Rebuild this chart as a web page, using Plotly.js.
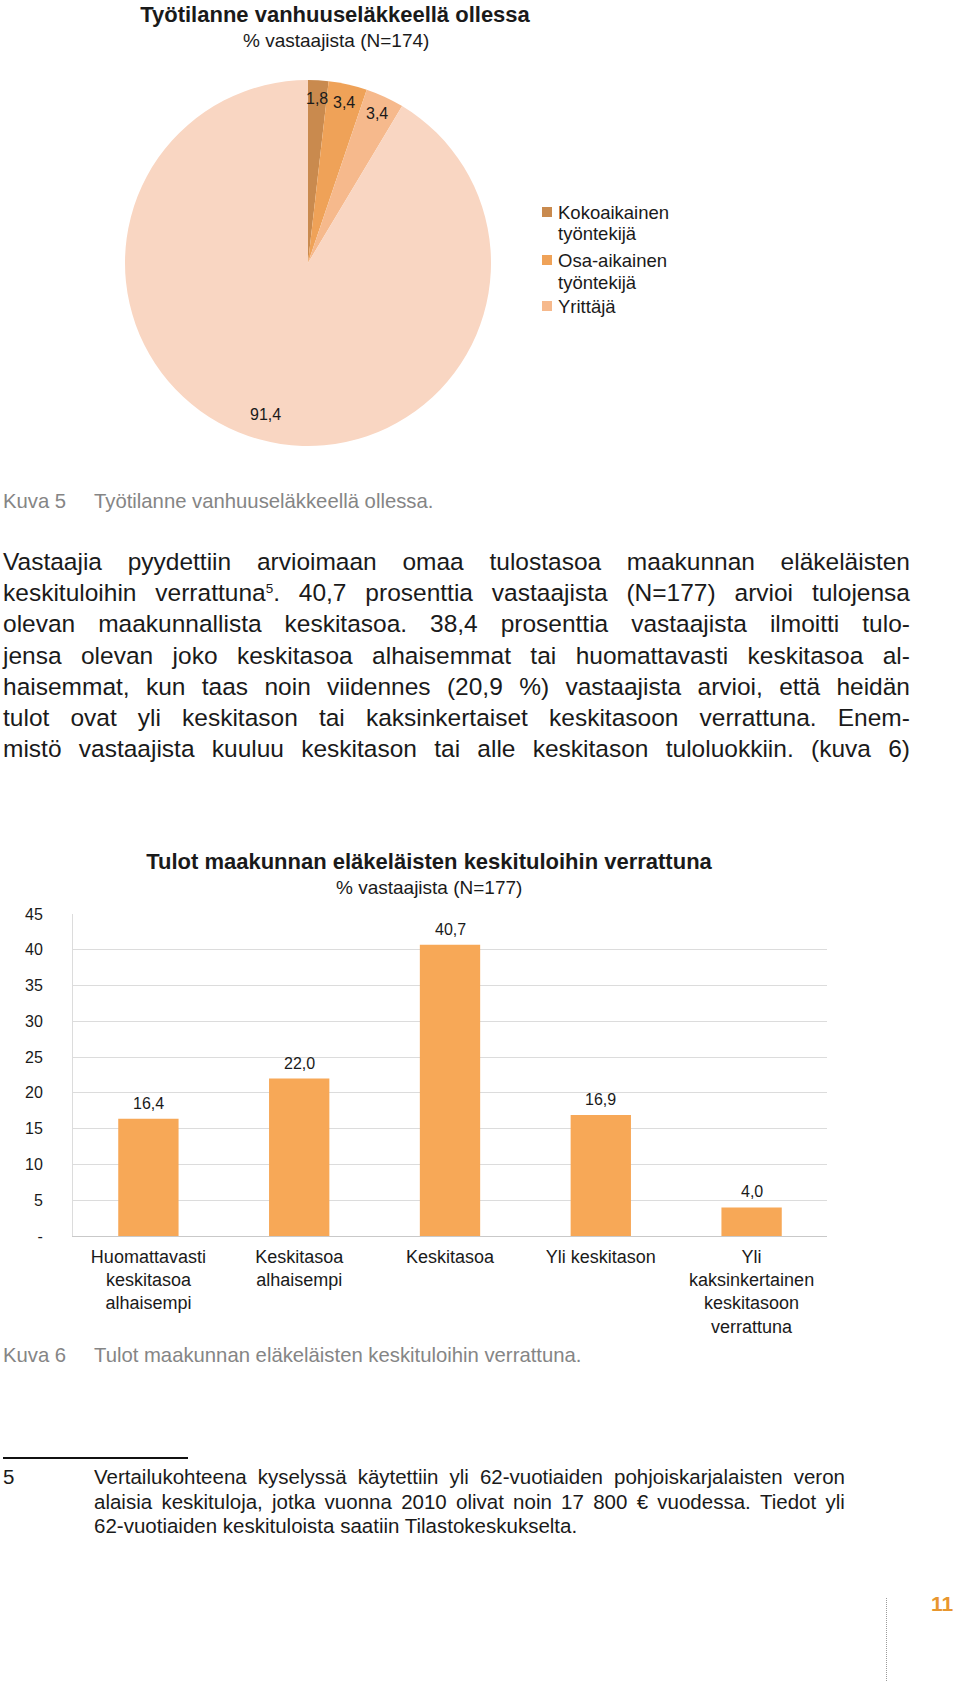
<!DOCTYPE html>
<html>
<head>
<meta charset="utf-8">
<script src="https://cdn.plot.ly/plotly-3.0.1.min.js"></script>
<style>
  body { margin: 0; background: #ffffff; }
  #page { position: relative; width: 960px; height: 1681px; overflow: hidden; background: #fff;
          font-family: "Liberation Sans", Arial, Helvetica, sans-serif; color: #1a1a1a; }
  .abs { position: absolute; white-space: nowrap; }
  .jline { position: absolute; display: flex; justify-content: space-between; white-space: nowrap; }
  .cap { color: #858585; font-size: 20.3px; line-height: 24px; }
  sup { font-size: 0.55em; line-height: 0; vertical-align: 0.6em; }
  #pie { position: absolute; left: 0; top: 0; width: 960px; height: 470px; }
  #bar { position: absolute; left: 0; top: 830px; width: 960px; height: 510px; }
  #measure { position: absolute; left: -5000px; top: 0; white-space: nowrap; visibility: hidden; }
</style>
</head>
<body>
<div id="page">
  <div id="pie"></div>
  <div id="bar"></div>
</div>
<span id="measure"></span>
<script>
// ---------------- DATA ----------------
const pieTitle = 'Työtilanne vanhuuseläkkeellä ollessa';
const pieSubtitle = '% vastaajista (N=174)';
const pieLabels = ['Kokoaikainen työntekijä', 'Osa-aikainen työntekijä', 'Yrittäjä', 'Ei työssä'];
const pieLegendLabels = ['Kokoaikainen<br>työntekijä', 'Osa-aikainen<br>työntekijä', 'Yrittäjä'];
const pieValues = [1.8, 3.4, 3.4, 91.4];
const pieColors = ['#C98A4E', '#EFA258', '#F6B98C', '#F9D6C2'];

const barTitle = 'Tulot maakunnan eläkeläisten keskituloihin verrattuna';
const barSubtitle = '% vastaajista (N=177)';
const barCategories = [
  'Huomattavasti<br>keskitasoa<br>alhaisempi',
  'Keskitasoa<br>alhaisempi',
  'Keskitasoa',
  'Yli keskitason',
  'Yli<br>kaksinkertainen<br>keskitasoon<br>verrattuna'
];
const barValues = [16.4, 22.0, 40.7, 16.9, 4.0];
const barColor = '#F7A857';
const yTickVals = [0, 5, 10, 15, 20, 25, 30, 35, 40, 45];
const yTickText = ['-', '5', '10', '15', '20', '25', '30', '35', '40', '45'];

const caption5 = ['Kuva 5', 'Työtilanne vanhuuseläkkeellä ollessa.'];
const caption6 = ['Kuva 6', 'Tulot maakunnan eläkeläisten keskituloihin verrattuna.'];
const bodyLines = [
  'Vastaajia pyydettiin arvioimaan omaa tulostasoa maakunnan eläkeläisten',
  'keskituloihin verrattuna<sup>5</sup>. 40,7 prosenttia vastaajista (N=177) arvioi tulojensa',
  'olevan maakunnallista keskitasoa. 38,4 prosenttia vastaajista ilmoitti tulo-',
  'jensa olevan joko keskitasoa alhaisemmat tai huomattavasti keskitasoa al-',
  'haisemmat, kun taas noin viidennes (20,9 %) vastaajista arvioi, että heidän',
  'tulot ovat yli keskitason tai kaksinkertaiset keskitasoon verrattuna. Enem-',
  'mistö vastaajista kuuluu keskitason tai alle keskitason tuloluokkiin. (kuva 6)'
];
const footNumber = '5';
const footLines = [
  'Vertailukohteena kyselyssä käytettiin yli 62-vuotiaiden pohjoiskarjalaisten veron',
  'alaisia keskituloja, jotka vuonna 2010 olivat noin 17 800 € vuodessa. Tiedot yli',
  '62-vuotiaiden keskituloista saatiin Tilastokeskukselta.'
];
const pageNumber = '11';

const FONT = '"Liberation Sans", Arial, Helvetica, sans-serif';
const fmt = v => v.toFixed(1).replace('.', ',');

// ---------------- PIE ----------------
(function () {
  const W = 960, H = 470;
  const cx = 308, cy = 263, R = 183;
  const annotations = [];
  annotations.push({ text: pieSubtitle, x: 336 / W, y: 1 - 40 / H, xref: 'paper', yref: 'paper',
    showarrow: false, xanchor: 'center', yanchor: 'middle', font: { size: 19, color: '#1a1a1a', family: FONT } });

  // slice value labels, placed from the data angles
  const total = pieValues.reduce((a, b) => a + b, 0);
  let cum = 0;
  pieValues.forEach((v) => {
    const mid = (cum + v / 2) / total * 2 * Math.PI;
    cum += v;
    const rf = v > 50 ? 0.86 : 0.9;
    const px = cx + Math.sin(mid) * R * rf;
    const py = cy - Math.cos(mid) * R * rf;
    annotations.push({ text: fmt(v), x: px / W, y: 1 - py / H, xref: 'paper', yref: 'paper',
      showarrow: false, xanchor: 'center', yanchor: 'middle', font: { size: 16, color: '#1a1a1a', family: FONT } });
  });

  // manual legend (first three categories)
  const shapes = [];
  const legY = [212, 260, 306];
  pieLegendLabels.forEach((lab, i) => {
    const y = legY[i];
    shapes.push({ type: 'rect', xref: 'paper', yref: 'paper',
      x0: 542 / W, x1: 552 / W, y0: 1 - (y + 5) / H, y1: 1 - (y - 5) / H,
      fillcolor: pieColors[i], line: { width: 0 } });
    lab.split('<br>').forEach((ln, j) => {
      annotations.push({ text: ln, x: 556 / W, y: 1 - (y + j * 22) / H, xref: 'paper', yref: 'paper',
        showarrow: false, xanchor: 'left', yanchor: 'middle', align: 'left',
        font: { size: 18.5, color: '#1a1a1a', family: FONT } });
    });
  });

  const trace = {
    type: 'pie', labels: pieLabels, values: pieValues, sort: false, direction: 'clockwise', rotation: 0,
    marker: { colors: pieColors, line: { width: 0 } }, textinfo: 'none', hoverinfo: 'label+value',
    showlegend: false,
    domain: { x: [(cx - R) / W, (cx + R) / W], y: [1 - (cy + R) / H, 1 - (cy - R) / H] }
  };
  const layout = {
    width: W, height: H, margin: { l: 0, r: 0, t: 0, b: 0 },
    paper_bgcolor: '#ffffff', plot_bgcolor: '#ffffff', showlegend: false,
    font: { family: FONT, color: '#1a1a1a' },
    title: { text: '<b>' + pieTitle + '</b>', x: 335 / W, xanchor: 'center', y: 1 - 14 / H, yanchor: 'middle',
      xref: 'container', yref: 'container', font: { size: 22, color: '#1a1a1a', family: FONT } },
    annotations: annotations, shapes: shapes
  };
  Plotly.newPlot('pie', [trace], layout, { staticPlot: true, displayModeBar: false });
})();

// ---------------- BAR ----------------
(function () {
  const W = 960, H = 510;
  const m = { l: 73, r: 133, t: 84, b: 104 };
  const plotH = H - m.t - m.b;
  const trace = {
    type: 'bar', x: barCategories, y: barValues, marker: { color: barColor, line: { width: 0 } },
    textinfo: 'none', cliponaxis: false, hoverinfo: 'x+y'
  };
  const annotations = [{ text: barSubtitle, xref: 'paper', yref: 'paper', x: (429 - m.l) / (W - m.l - m.r),
      y: (H - 57 - m.b) / plotH, showarrow: false, xanchor: 'center', yanchor: 'middle',
      font: { size: 19, color: '#1a1a1a', family: FONT } }];
  barValues.forEach((v, i) => annotations.push({ text: fmt(v), xref: 'x', yref: 'y', x: barCategories[i], y: v,
    showarrow: false, xanchor: 'center', yanchor: 'bottom', yshift: 5,
    font: { size: 16, color: '#1a1a1a', family: FONT } }));
  const layout = {
    width: W, height: H, margin: m, bargap: 0.6, separators: ',.',
    paper_bgcolor: '#ffffff', plot_bgcolor: '#ffffff', showlegend: false,
    font: { family: FONT, color: '#1a1a1a' },
    title: { text: '<b>' + barTitle + '</b>', x: 429 / W, xanchor: 'center', y: 1 - 31 / H, yanchor: 'middle',
      xref: 'container', yref: 'container', font: { size: 22, color: '#1a1a1a', family: FONT } },
    annotations: annotations,
    xaxis: { type: 'category', showgrid: false, showline: true, linecolor: '#c9c9c9', linewidth: 1,
      ticks: '', tickfont: { size: 18, color: '#1a1a1a', family: FONT }, ticklabelstandoff: 4, automargin: false },
    yaxis: { range: [0, 45], tickvals: yTickVals, ticktext: yTickText, showgrid: true, gridcolor: '#dcdcdc',
      gridwidth: 1, zeroline: false, showline: true, linecolor: '#dcdcdc', linewidth: 1, ticks: '',
      ticklabelstandoff: 26, tickfont: { size: 16, color: '#1a1a1a', family: FONT }, automargin: false, fixedrange: true }
  };
  Plotly.newPlot('bar', [trace], layout, { staticPlot: true, displayModeBar: false });
})();

// ---------------- TEXT ----------------
(function () {
  const page = document.getElementById('page');
  const meas = document.getElementById('measure');
  function natural(html, size) {
    meas.style.fontSize = size + 'px';
    meas.style.letterSpacing = '0px';
    meas.innerHTML = html;
    return meas.getBoundingClientRect().width;
  }
  // per-line letter spacing (<= 0) so that a line fits its box at the chosen size
  function lineSpacing(line, size, width) {
    const w = natural(line, size);
    const n = line.replace(/<[^>]*>/g, '').length;
    return Math.min(0, (width * 0.985 - w) / n);
  }
  function add(html, cls, style) {
    const d = document.createElement('div');
    d.className = cls; d.innerHTML = html;
    Object.assign(d.style, style);
    page.appendChild(d);
    return d;
  }
  function jline(text, left, width, centerY, size, lh) {
    const ls = lineSpacing(text, size, width);
    const d = document.createElement('div');
    d.className = 'jline';
    Object.assign(d.style, { left: left + 'px', width: width + 'px', top: (centerY - lh / 2) + 'px',
      fontSize: size + 'px', lineHeight: lh + 'px', letterSpacing: ls + 'px' });
    text.split(' ').forEach(w => { const s = document.createElement('span'); s.innerHTML = w; d.appendChild(s); });
    page.appendChild(d);
  }
  // captions
  add(caption5[0], 'abs cap', { left: '3px', top: (501 - 12) + 'px' });
  add(caption5[1], 'abs cap', { left: '94px', top: (501 - 12) + 'px' });
  add(caption6[0], 'abs cap', { left: '3px', top: (1355 - 12) + 'px' });
  add(caption6[1], 'abs cap', { left: '94px', top: (1355 - 12) + 'px' });

  // body paragraph
  const bodyY = [561, 592, 623, 655, 686, 717, 748];
  const bodySize = 24.5;
  bodyLines.forEach((t, i) => jline(t, 3, 907, bodyY[i], bodySize, 31));

  // footnote
  add('', 'abs', { left: '3px', top: '1457px', width: '185px', height: '2px', background: '#111' });
  const footSize = 20.5;
  add(footNumber, 'abs', { left: '3px', top: (1477 - 12) + 'px', fontSize: footSize + 'px', lineHeight: '24px' });
  const footY = [1477, 1502, 1526];
  footLines.forEach((t, i) => {
    if (i < footLines.length - 1) jline(t, 94, 751, footY[i], footSize, 24);
    else add(t, 'abs', { left: '94px', top: (footY[i] - 12) + 'px', fontSize: footSize + 'px', lineHeight: '24px' });
  });

  // page number + dotted rule
  add('', 'abs', { left: '886px', top: '1598px', height: '83px', width: '0px', borderLeft: '1px dotted #9a9a9a' });
  add(pageNumber, 'abs', { left: '931px', top: (1604 - 13) + 'px', fontSize: '21px', lineHeight: '26px',
    fontWeight: 'bold', color: '#E8962E' });
})();
</script>
</body>
</html>
